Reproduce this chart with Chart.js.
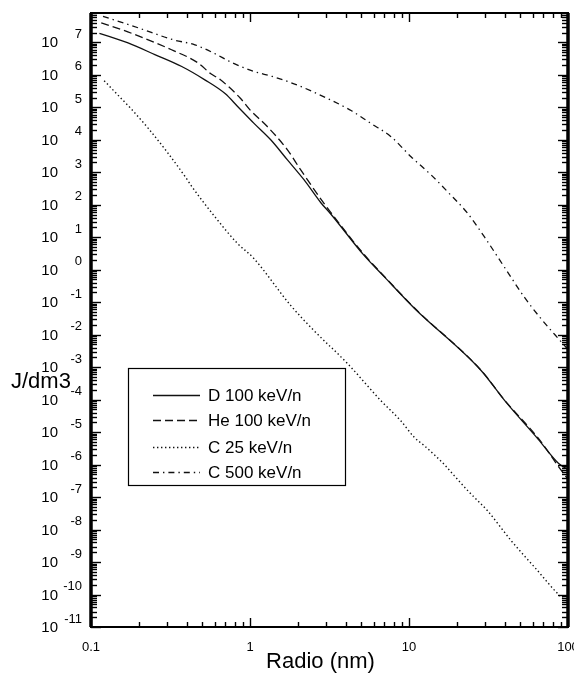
<!DOCTYPE html>
<html><head><meta charset="utf-8">
<script src="https://cdn.jsdelivr.net/npm/chart.js@4.4.1/dist/chart.umd.min.js"></script>
<style>html,body{margin:0;padding:0;background:#fff;}#wrap{width:574px;height:674px;}</style>
</head><body><div id="wrap"><canvas id="c" width="574" height="674"></canvas></div>
<script>
// ---- data ----
const seriesNames = ['D 100 keV/n', 'He 100 keV/n', 'C 25 keV/n', 'C 500 keV/n'];

const dX  = [0.113, 0.171, 0.252, 0.372, 0.52, 0.70, 0.83, 1.06, 1.35, 1.72, 2.19, 2.79, 3.22, 5.2, 7.0, 10.8, 28.4, 40, 65, 87, 100];
const dY  = [1.9e7, 9.6e6, 4.2e6, 1.8e6, 7e5, 2.6e5, 1.1e5, 3.2e4, 1.0e4, 2.4e3, 580, 115, 52, 2.8, 0.6, 0.065, 7.9e-4, 9.3e-5, 6e-6, 1.1e-6, 7e-7];

const heX = [0.116, 0.18, 0.321, 0.473, 0.564, 0.652, 0.87, 1.0, 1.28, 1.72, 2.08, 2.92, 3.22, 5.2, 7.0, 10.8, 28.4, 40, 65, 90, 100];
const heY = [4.0e7, 1.9e7, 5.9e6, 2.3e6, 1.1e6, 7e5, 1.9e5, 8.3e4, 2.6e4, 4.9e3, 1.2e3, 110, 58, 3.0, 0.62, 0.067, 8e-4, 9.5e-5, 6.5e-6, 7e-7, 3.5e-7];

const c25X = [0.121, 0.142, 0.181, 0.23, 0.30, 0.392, 0.432, 0.59, 0.83, 1.05, 1.8, 2.52, 4.1, 6.65, 8.9, 10.8, 12.5, 16.7, 19.3, 23.5, 31.3, 44, 62, 91.6, 100];
const c25Y = [6.6e5, 2.9e5, 8.4e4, 2.2e4, 4.3e3, 720, 355, 48, 6.6, 2.3, 0.08, 0.0135, 1.3e-3, 9.3e-5, 2.2e-5, 6.9e-6, 3.8e-6, 1e-6, 4.5e-7, 1.55e-7, 3.7e-8, 4.5e-9, 6.7e-10, 8e-11, 6e-11];

const c500X = [0.119, 0.198, 0.329, 0.45, 0.589, 0.767, 1.06, 1.38, 1.89, 2.53, 4.35, 5.75, 7.7, 10.3, 13.8, 17.5, 23.4, 29.9, 39.8, 53.3, 66.3, 91, 100];
const c500Y = [6.3e7, 2.8e7, 1.2e7, 8.4e6, 4.7e6, 2.4e6, 1.27e6, 8.9e5, 5.3e5, 2.9e5, 7.8e4, 3.2e4, 1.25e4, 3e3, 820, 250, 54, 10, 1.2, 0.14, 0.035, 5.9e-3, 3.5e-3];

const xTickValues = [0.1, 1, 10, 100];
const xTickLabels = ['0.1', '1', '10', '100'];
const yExponents = [-11, -10, -9, -8, -7, -6, -5, -4, -3, -2, -1, 0, 1, 2, 3, 4, 5, 6, 7];
const xTitle = 'Radio (nm)';
const yTitle = 'J/dm3';

// ---- styles ----
const FONT = '"Liberation Sans", Arial, Helvetica, sans-serif';
const dashes = [[], [8, 4], [1.4, 2.6], [6, 4, 1.4, 4]];
const INK = '#111';

function pts(xs, ys) { return xs.map((v, i) => ({ x: v, y: ys[i] })); }
const seriesData = [pts(dX, dY), pts(heX, heY), pts(c25X, c25Y), pts(c500X, c500Y)];

const datasets = seriesNames.map((n, i) => ({
  label: n,
  data: seriesData[i],
  borderColor: INK,
  borderWidth: i === 2 ? 1.4 : 1.3,
  borderDash: dashes[i],
  pointRadius: 0,
  fill: false,
  cubicInterpolationMode: 'monotone'
}));

function line(ctx, x1, y1, x2, y2) { ctx.beginPath(); ctx.moveTo(x1, y1); ctx.lineTo(x2, y2); ctx.stroke(); }

const decor = {
  id: 'decor',
  afterDraw(chart) {
    const { ctx, chartArea: a, scales: { x, y } } = chart;
    ctx.save();
    ctx.strokeStyle = '#000';
    ctx.fillStyle = '#000';
    ctx.setLineDash([]);
    // x ticks (top & bottom, inward)
    ctx.lineWidth = 1.4;
    for (let e = -1; e <= 1; e++) {
      for (let m = 1; m <= 9; m++) {
        const v = m * Math.pow(10, e);
        const px = Math.round(x.getPixelForValue(v)) + 0.5;
        const L = m === 1 ? 9 : 5;
        line(ctx, px, a.bottom, px, a.bottom - L);
        line(ctx, px, a.top, px, a.top + L);
      }
    }
    // y ticks (left & right, inward)
    for (let e = -11; e <= 7; e++) {
      for (let m = 1; m <= 9; m++) {
        const v = m * Math.pow(10, e);
        if (v > y.max) continue;
        const py = Math.round(y.getPixelForValue(v)) + 0.5;
        const L = m === 1 ? 10 : 6;
        line(ctx, a.left, py, a.left + L, py);
        line(ctx, a.right, py, a.right - L, py);
      }
    }
    // frame
    ctx.lineWidth = 2;
    ctx.strokeRect(a.left, a.top, a.right - a.left, a.bottom - a.top);
    ctx.lineWidth = 3.5;
    line(ctx, a.left, a.top, a.left, a.bottom);
    line(ctx, a.right, a.top, a.right, a.bottom);

    // x tick labels
    ctx.font = '13px ' + FONT;
    ctx.textAlign = 'center';
    ctx.textBaseline = 'middle';
    xTickValues.forEach((v, i) => {
      ctx.fillText(xTickLabels[i], x.getPixelForValue(v), a.bottom + 20);
    });
    // y tick labels: 10 with raised exponent
    yExponents.forEach(e => {
      const py = y.getPixelForValue(Math.pow(10, e));
      ctx.font = '15px ' + FONT;
      ctx.textAlign = 'right';
      ctx.textBaseline = 'middle';
      ctx.fillText('10', 58, py + 1);
      ctx.font = '13px ' + FONT;
      ctx.fillText(e < 0 ? '-' + Math.abs(e) : String(e), 82, py - 8);
    });

    // axis titles
    ctx.font = '22px ' + FONT;
    ctx.textAlign = 'center';
    ctx.textBaseline = 'middle';
    ctx.fillText(xTitle, (a.left + a.right) / 2 - 9, 662);
    ctx.textAlign = 'left';
    ctx.fillText(yTitle, 11, 382);

    // legend box
    const bx = 128, by = 368, bw = 217, bh = 117;
    ctx.fillStyle = '#fff';
    ctx.fillRect(bx, by, bw, bh);
    ctx.fillStyle = '#000';
    ctx.lineWidth = 1.2;
    ctx.strokeRect(bx + 0.5, by + 0.5, bw, bh);
    const rows = [395, 420, 447, 472];
    ctx.font = '17px ' + FONT;
    ctx.textAlign = 'left';
    ctx.textBaseline = 'middle';
    chart.data.datasets.forEach((ds, i) => {
      ctx.save();
      ctx.strokeStyle = ds.borderColor;
      ctx.lineWidth = ds.borderWidth;
      ctx.setLineDash(ds.borderDash);
      line(ctx, 153, rows[i] + 0.5, 200, rows[i] + 0.5);
      ctx.restore();
      ctx.fillText(ds.label, 208, rows[i] + 1);
    });
    ctx.restore();
  }
};

new Chart(document.getElementById('c'), {
  type: 'line',
  data: { datasets },
  options: {
    responsive: false,
    animation: false,
    devicePixelRatio: 1,
    layout: { padding: { left: 91, top: 13, right: 6, bottom: 47 } },
    plugins: { legend: { display: false }, tooltip: { enabled: false }, title: { display: false } },
    scales: {
      x: { type: 'logarithmic', min: 0.1, max: 100, display: false },
      y: { type: 'logarithmic', min: 1e-11, max: 8e7, display: false }
    }
  },
  plugins: [decor]
});
</script>
</body></html>
